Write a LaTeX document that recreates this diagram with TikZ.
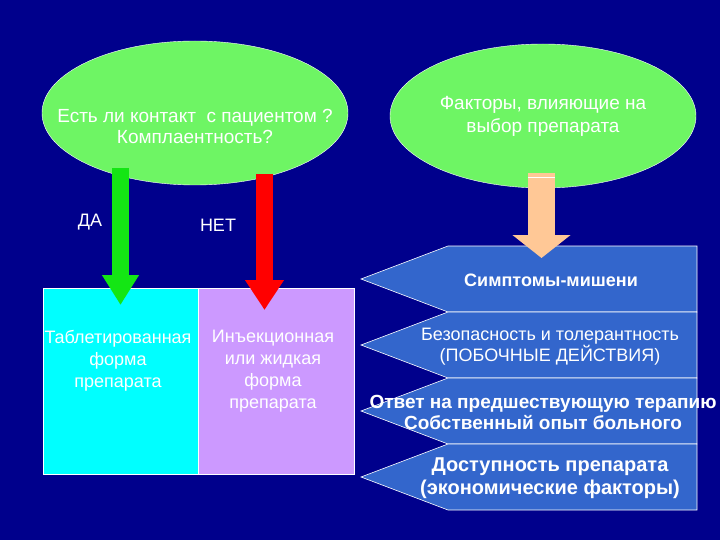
\documentclass[tikz,border=0pt]{standalone}
\usepackage{fontspec}
\setmainfont{Liberation Sans}
\usetikzlibrary{positioning}
\usetikzlibrary{shapes.geometric}
\usetikzlibrary{arrows.meta}

\definecolor{slidebg}{RGB}{0,0,140}
\definecolor{ovalgreen}{RGB}{110,245,100}
\definecolor{tabcyan}{RGB}{0,255,255}
\definecolor{injlilac}{RGB}{204,153,255}
\definecolor{rowblue}{RGB}{51,102,204}
\definecolor{yesgreen}{RGB}{20,230,20}
\definecolor{nored}{RGB}{255,0,0}
\definecolor{peach}{RGB}{255,200,150}

\tikzset{
    oval/.style={draw=white, fill=ovalgreen, shape=ellipse, minimum width=306pt,
        minimum height=144pt, inner sep=0pt, text=white, align=center,
        font=\fontsize{19}{23}\selectfont},
    formbox/.style={draw=white, minimum height=186pt, inner sep=0pt},
    formtext/.style={text=white, align=center, font=\fontsize{18}{22}\selectfont},
    rowbox/.style={draw=white, fill=rowblue, line width=0.6pt},
    rowtext/.style={text=white, align=center},
    fat/.style={line width=#1},
}

\begin{document}
\begin{tikzpicture}[x=1pt, y=-1pt]
    \fill[slidebg] (0,0) rectangle (720,540);
    \useasboundingbox (0,0) rectangle (720,540);

    % questions
    \node[oval] (contact) at (195,113) {};
    \node[oval] (factors) at (543,116) {Факторы, влияющие на\\выбор препарата};

    % forms
    \node[formbox, fill=tabcyan, minimum width=155pt, anchor=north west] (tablet) at (43,288) {};
    \node[formbox, fill=injlilac, minimum width=156pt, right=0pt of tablet] (inject) {};

    % factor rows
    \foreach \t in {246,312,378,444}
        \draw[rowbox] (697,\t) -- (448,\t) -- (361,\t+33) -- (448,\t+66) -- (697,\t+66) -- cycle;

    % arrows
    \coordinate (yestop) at (120.5,168);
    \coordinate (yestip) at (120.5,305);
    \coordinate (notop) at (264.5,174);
    \coordinate (notip) at (264.5,310);
    \coordinate (factop) at (541.5,173);
    \coordinate (factip) at (541.5,258);
    \draw[yesgreen, fat=17pt, -{Triangle[width=35pt,length=30pt]}] (yestop) -- (yestip);
    \draw[nored, fat=17pt, -{Triangle[width=37pt,length=30pt]}] (notop) -- (notip);
    \draw[peach, fat=27pt, -{Triangle[width=57pt,length=23pt]}] (factop) -- (factip);
    \draw[white, thin] (528,177) -- (555,177);

    % texts
    \node[text=white, align=center, font=\fontsize{19}{21}\selectfont] (contacttext)
        at ([yshift=-13pt]contact.center) {Есть ли контакт~ с пациентом ?\\Комплаентность?};
    \node[text=white, font=\fontsize{18}{22}\selectfont] (yes) at (90,222) {ДА};
    \node[text=white, font=\fontsize{18}{22}\selectfont] (no) at (218,225) {НЕТ};
    \node[formtext] (tablettext) at (118,361) {Таблетированная\\форма\\препарата};
    \node[formtext] (injecttext) at (273,371) {Инъекционная\\или жидкая\\форма\\препарата};
    \node[rowtext, font=\bfseries\fontsize{18}{21}\selectfont] (targets) at (551,280) {Симптомы-мишени};
    \node[rowtext, font=\fontsize{18}{21}\selectfont] (safety) at (550,347)
        {Безопасность и толерантность\\(ПОБОЧНЫЕ ДЕЙСТВИЯ)};
    \node[rowtext, font=\bfseries\fontsize{19}{21}\selectfont] (response) at (543,412)
        {Ответ на предшествующую терапию\\Собственный опыт больного};
    \node[rowtext, font=\bfseries\fontsize{20}{23}\selectfont] (access) at (550,478)
        {Доступность препарата\\(экономические факторы)};
\end{tikzpicture}
\end{document}
